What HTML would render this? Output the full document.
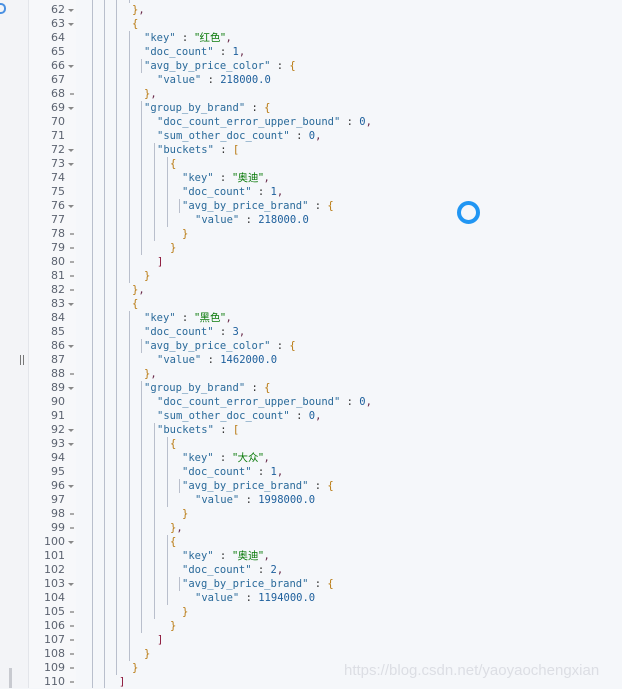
<!DOCTYPE html>
<html><head><meta charset="utf-8"><style>
html,body{margin:0;padding:0}
body{width:622px;height:688px;position:relative;overflow:hidden;background:#f5f7fa;font-family:"DejaVu Sans Mono","Liberation Mono","Noto Sans CJK SC",monospace;font-size:10.5px}
#left{position:absolute;left:0;top:0;width:28px;height:688px;background:#f3f4f7;border-right:1px solid #e3e5ea}
#gut{position:absolute;left:29px;top:0;width:47px;height:688px;background:#f7f8fa}
.n{position:absolute;left:29px;width:36px;text-align:right;color:#5c6370;font-family:"DejaVu Sans",sans-serif;font-size:11px;line-height:14px}
.f{position:absolute;left:68px;width:0;height:0;border-left:3px solid transparent;border-right:3px solid transparent;border-top:3px solid #888}
.c{position:absolute;left:70px;width:4px;height:2px;background:#aaa}
.l{position:absolute;white-space:pre;line-height:14px;color:#333}
.g{position:absolute;width:1px;background:#b9bfcc}
.k{color:#2a6a9a}.s{color:#2a6a9a}.cn{color:#0a7a0a;font-family:"Noto Sans CJK SC",sans-serif}
.v{color:#1d5f9c}.o{color:#b8780e}.p{color:#6a2a4a}.r{color:#8b1538}
</style></head><body>
<div id="left"></div><div id="gut"></div>
<div style="position:absolute;left:0;top:3px;width:4px;height:7px;border:2px solid #4a90e2;border-left:none;border-radius:0 5px 5px 0"></div>
<div style="position:absolute;left:20px;top:355px;width:1px;height:10px;background:#777"></div>
<div style="position:absolute;left:23px;top:355px;width:1px;height:10px;background:#777"></div>
<div style="position:absolute;left:9px;top:668px;width:3px;height:20px;background:#c8cad0"></div>

<!-- guides -->
<div class="g" style="left:92px;top:0;height:688px"></div>
<div class="g" style="left:104px;top:0;height:688px"></div>
<div class="g" style="left:116px;top:0;height:675px"></div>
<div class="g" style="left:129px;top:0;height:3px"></div>
<div class="g" style="left:129px;top:31px;height:252px"></div>
<div class="g" style="left:129px;top:311px;height:350px"></div>
<div class="g" style="left:141px;top:59px;height:14px"></div>
<div class="g" style="left:141px;top:101px;height:154px"></div>
<div class="g" style="left:141px;top:339px;height:14px"></div>
<div class="g" style="left:141px;top:381px;height:252px"></div>
<div class="g" style="left:154px;top:143px;height:98px"></div>
<div class="g" style="left:154px;top:423px;height:196px"></div>
<div class="g" style="left:167px;top:157px;height:70px"></div>
<div class="g" style="left:167px;top:437px;height:70px"></div>
<div class="g" style="left:167px;top:535px;height:70px"></div>
<div class="g" style="left:179px;top:199px;height:14px"></div>
<div class="g" style="left:179px;top:479px;height:14px"></div>
<div class="g" style="left:179px;top:577px;height:14px"></div>

<!-- line numbers -->
<div class="n" style="top:3px">62</div><div class="n" style="top:17px">63</div><div class="n" style="top:31px">64</div><div class="n" style="top:45px">65</div><div class="n" style="top:59px">66</div><div class="n" style="top:73px">67</div><div class="n" style="top:87px">68</div><div class="n" style="top:101px">69</div><div class="n" style="top:115px">70</div><div class="n" style="top:129px">71</div><div class="n" style="top:143px">72</div><div class="n" style="top:157px">73</div><div class="n" style="top:171px">74</div><div class="n" style="top:185px">75</div><div class="n" style="top:199px">76</div><div class="n" style="top:213px">77</div><div class="n" style="top:227px">78</div><div class="n" style="top:241px">79</div><div class="n" style="top:255px">80</div><div class="n" style="top:269px">81</div><div class="n" style="top:283px">82</div><div class="n" style="top:297px">83</div><div class="n" style="top:311px">84</div><div class="n" style="top:325px">85</div><div class="n" style="top:339px">86</div><div class="n" style="top:353px">87</div><div class="n" style="top:367px">88</div><div class="n" style="top:381px">89</div><div class="n" style="top:395px">90</div><div class="n" style="top:409px">91</div><div class="n" style="top:423px">92</div><div class="n" style="top:437px">93</div><div class="n" style="top:451px">94</div><div class="n" style="top:465px">95</div><div class="n" style="top:479px">96</div><div class="n" style="top:493px">97</div><div class="n" style="top:507px">98</div><div class="n" style="top:521px">99</div><div class="n" style="top:535px">100</div><div class="n" style="top:549px">101</div><div class="n" style="top:563px">102</div><div class="n" style="top:577px">103</div><div class="n" style="top:591px">104</div><div class="n" style="top:605px">105</div><div class="n" style="top:619px">106</div><div class="n" style="top:633px">107</div><div class="n" style="top:647px">108</div><div class="n" style="top:661px">109</div><div class="n" style="top:675px">110</div>

<!-- fold markers -->
<div class="f" style="top:9px"></div><div class="f" style="top:23px"></div><div class="f" style="top:65px"></div><div class="f" style="top:107px"></div><div class="f" style="top:149px"></div><div class="f" style="top:163px"></div><div class="f" style="top:205px"></div><div class="f" style="top:303px"></div><div class="f" style="top:345px"></div><div class="f" style="top:387px"></div><div class="f" style="top:429px"></div><div class="f" style="top:443px"></div><div class="f" style="top:485px"></div><div class="f" style="top:541px"></div><div class="f" style="top:583px"></div>
<div class="c" style="top:93px"></div><div class="c" style="top:233px"></div><div class="c" style="top:247px"></div><div class="c" style="top:261px"></div><div class="c" style="top:275px"></div><div class="c" style="top:289px"></div><div class="c" style="top:373px"></div><div class="c" style="top:513px"></div><div class="c" style="top:527px"></div><div class="c" style="top:611px"></div><div class="c" style="top:625px"></div><div class="c" style="top:639px"></div><div class="c" style="top:653px"></div><div class="c" style="top:667px"></div><div class="c" style="top:681px"></div>

<!-- code -->
<div class="l" style="top:3px;left:132px"><span class="o">}</span><span class="p">,</span></div>
<div class="l" style="top:17px;left:132px"><span class="o">{</span></div>
<div class="l" style="top:31px;left:144px"><span class="k">"key"</span> : <span class="cn">"红色"</span><span class="p">,</span></div>
<div class="l" style="top:45px;left:144px"><span class="k">"doc_count"</span> : <span class="v">1</span><span class="p">,</span></div>
<div class="l" style="top:59px;left:144px"><span class="k">"avg_by_price_color"</span> : <span class="o">{</span></div>
<div class="l" style="top:73px;left:157px"><span class="k">"value"</span> : <span class="v">218000.0</span></div>
<div class="l" style="top:87px;left:144px"><span class="o">}</span><span class="p">,</span></div>
<div class="l" style="top:101px;left:144px"><span class="k">"group_by_brand"</span> : <span class="o">{</span></div>
<div class="l" style="top:115px;left:157px"><span class="k">"doc_count_error_upper_bound"</span> : <span class="v">0</span><span class="p">,</span></div>
<div class="l" style="top:129px;left:157px"><span class="k">"sum_other_doc_count"</span> : <span class="v">0</span><span class="p">,</span></div>
<div class="l" style="top:143px;left:157px"><span class="k">"buckets"</span> : <span class="o">[</span></div>
<div class="l" style="top:157px;left:170px"><span class="o">{</span></div>
<div class="l" style="top:171px;left:182px"><span class="k">"key"</span> : <span class="cn">"奥迪"</span><span class="p">,</span></div>
<div class="l" style="top:185px;left:182px"><span class="k">"doc_count"</span> : <span class="v">1</span><span class="p">,</span></div>
<div class="l" style="top:199px;left:182px"><span class="k">"avg_by_price_brand"</span> : <span class="o">{</span></div>
<div class="l" style="top:213px;left:195px"><span class="k">"value"</span> : <span class="v">218000.0</span></div>
<div class="l" style="top:227px;left:182px"><span class="o">}</span></div>
<div class="l" style="top:241px;left:170px"><span class="o">}</span></div>
<div class="l" style="top:255px;left:157px"><span class="r">]</span></div>
<div class="l" style="top:269px;left:144px"><span class="o">}</span></div>
<div class="l" style="top:283px;left:132px"><span class="o">}</span><span class="p">,</span></div>
<div class="l" style="top:297px;left:132px"><span class="o">{</span></div>
<div class="l" style="top:311px;left:144px"><span class="k">"key"</span> : <span class="cn">"黑色"</span><span class="p">,</span></div>
<div class="l" style="top:325px;left:144px"><span class="k">"doc_count"</span> : <span class="v">3</span><span class="p">,</span></div>
<div class="l" style="top:339px;left:144px"><span class="k">"avg_by_price_color"</span> : <span class="o">{</span></div>
<div class="l" style="top:353px;left:157px"><span class="k">"value"</span> : <span class="v">1462000.0</span></div>
<div class="l" style="top:367px;left:144px"><span class="o">}</span><span class="p">,</span></div>
<div class="l" style="top:381px;left:144px"><span class="k">"group_by_brand"</span> : <span class="o">{</span></div>
<div class="l" style="top:395px;left:157px"><span class="k">"doc_count_error_upper_bound"</span> : <span class="v">0</span><span class="p">,</span></div>
<div class="l" style="top:409px;left:157px"><span class="k">"sum_other_doc_count"</span> : <span class="v">0</span><span class="p">,</span></div>
<div class="l" style="top:423px;left:157px"><span class="k">"buckets"</span> : <span class="o">[</span></div>
<div class="l" style="top:437px;left:170px"><span class="o">{</span></div>
<div class="l" style="top:451px;left:182px"><span class="k">"key"</span> : <span class="cn">"大众"</span><span class="p">,</span></div>
<div class="l" style="top:465px;left:182px"><span class="k">"doc_count"</span> : <span class="v">1</span><span class="p">,</span></div>
<div class="l" style="top:479px;left:182px"><span class="k">"avg_by_price_brand"</span> : <span class="o">{</span></div>
<div class="l" style="top:493px;left:195px"><span class="k">"value"</span> : <span class="v">1998000.0</span></div>
<div class="l" style="top:507px;left:182px"><span class="o">}</span></div>
<div class="l" style="top:521px;left:170px"><span class="o">}</span><span class="p">,</span></div>
<div class="l" style="top:535px;left:170px"><span class="o">{</span></div>
<div class="l" style="top:549px;left:182px"><span class="k">"key"</span> : <span class="cn">"奥迪"</span><span class="p">,</span></div>
<div class="l" style="top:563px;left:182px"><span class="k">"doc_count"</span> : <span class="v">2</span><span class="p">,</span></div>
<div class="l" style="top:577px;left:182px"><span class="k">"avg_by_price_brand"</span> : <span class="o">{</span></div>
<div class="l" style="top:591px;left:195px"><span class="k">"value"</span> : <span class="v">1194000.0</span></div>
<div class="l" style="top:605px;left:182px"><span class="o">}</span></div>
<div class="l" style="top:619px;left:170px"><span class="o">}</span></div>
<div class="l" style="top:633px;left:157px"><span class="r">]</span></div>
<div class="l" style="top:647px;left:144px"><span class="o">}</span></div>
<div class="l" style="top:661px;left:132px"><span class="o">}</span></div>
<div class="l" style="top:675px;left:119px"><span class="r">]</span></div>

<!-- spinner -->
<div style="position:absolute;left:457px;top:201px;width:15px;height:15px;border:4px solid #2196f3;border-radius:50%"></div>

<div style="position:absolute;left:344px;top:662px;font-family:'Liberation Sans',sans-serif;font-size:15px;color:#dcdee4;white-space:nowrap">https://blog.csdn.net/yaoyaochengxian</div>
</body></html>
